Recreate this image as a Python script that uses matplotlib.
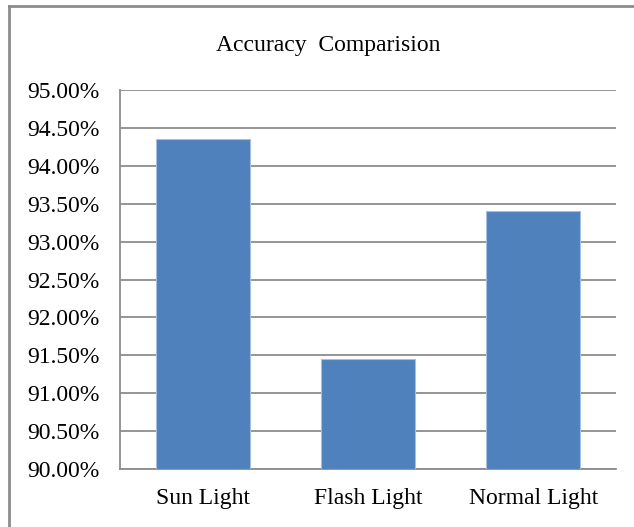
import matplotlib.pyplot as plt
from matplotlib.lines import Line2D
from matplotlib.ticker import FuncFormatter

categories = ["Sun Light", "Flash Light", "Normal Light"]
accuracy = [94.35, 91.45, 93.40]
y_ticks = [90.0, 90.5, 91.0, 91.5, 92.0, 92.5, 93.0, 93.5, 94.0, 94.5, 95.0]

plt.rcParams["font.family"] = ["Liberation Serif", "DejaVu Serif"]

W, H = 634, 527
fig = plt.figure(figsize=(W / 100, H / 100), dpi=100)
ax = fig.add_axes([120 / W, 1 - 469 / H, (616 - 120) / W, (469 - 90) / H])

x = range(len(categories))
ax.bar(x, [v - 90 for v in accuracy], bottom=90, width=0.57,
       color="#4F81BD", edgecolor="#A7BFDE", linewidth=0.8, zorder=3)

ax.set_xlim(-0.5, len(categories) - 0.5)
ax.set_ylim(90, 95)
ax.set_yticks(y_ticks)
ax.yaxis.set_major_formatter(FuncFormatter(lambda v, _: f"{v:.2f}%"))
ax.set_xticks(list(x))
ax.set_xticklabels(categories)
ax.tick_params(axis="both", length=0, labelsize=17, colors="black")
ax.tick_params(axis="y", pad=15)
ax.tick_params(axis="x", pad=14)
ax.grid(axis="y", color="#8C8C8C", linewidth=1.3, zorder=0)

for side in ["top", "right"]:
    ax.spines[side].set_visible(False)
for side in ["left", "bottom"]:
    ax.spines[side].set_color("#8C8C8C")
    ax.spines[side].set_linewidth(1.3)

fig.text(328 / W, 1 - 45 / H, "Accuracy  Comparision", ha="center", va="center", fontsize=17)

# outer chart frame
fig.add_artist(Line2D([9 / W, 9 / W], [0, 1 - 6 / H], transform=fig.transFigure,
                      color="#8C8C8C", linewidth=2))
fig.add_artist(Line2D([9 / W, 1], [1 - 6 / H, 1 - 6 / H], transform=fig.transFigure,
                      color="#8C8C8C", linewidth=2))

fig.savefig("out.png", dpi=100)
